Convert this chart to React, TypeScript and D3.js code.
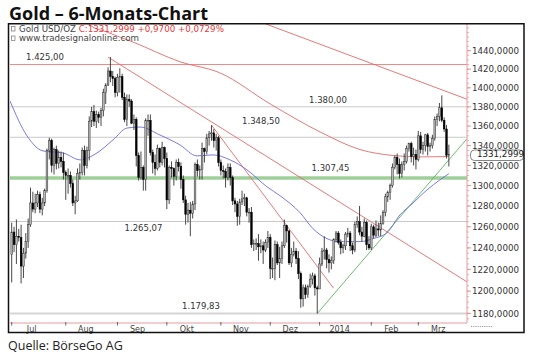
import React from "react";
import * as d3 from "d3";

// ---------- DATA (daily OHLC, spot gold USD/oz) ----------
const monthLabels = ["Jul", "Aug", "Sep", "Okt", "Nov", "Dez", "2014", "Feb", "Mrz"];

// [open, high, low, close]
const jul = [
  [1234, 1264, 1208, 1255], [1255, 1260, 1236, 1243], [1243, 1267, 1225, 1251], [1251, 1258, 1246, 1250], [1250, 1262, 1207, 1223],
  [1223, 1240, 1212, 1235], [1235, 1254, 1230, 1246], [1246, 1268, 1240, 1262], [1262, 1298, 1260, 1283], [1283, 1294, 1274, 1277],
  [1277, 1292, 1273, 1283], [1283, 1295, 1279, 1291], [1291, 1294, 1273, 1277], [1277, 1288, 1271, 1283], [1283, 1297, 1280, 1295],
  [1295, 1337, 1293, 1335], [1335, 1348, 1326, 1345], [1345, 1347, 1313, 1320], [1320, 1338, 1311, 1336], [1336, 1340, 1316, 1322],
  [1322, 1335, 1317, 1328], [1328, 1334, 1318, 1324], [1324, 1333, 1306, 1313],
];
const aug = [
  [1313, 1315, 1286, 1310], [1310, 1317, 1292, 1310], [1310, 1314, 1298, 1302], [1302, 1306, 1280, 1283], [1283, 1290, 1272, 1285],
  [1285, 1317, 1284, 1312], [1312, 1322, 1306, 1313], [1313, 1338, 1310, 1335], [1335, 1340, 1310, 1320], [1320, 1339, 1317, 1335],
  [1335, 1370, 1325, 1365], [1365, 1380, 1359, 1375], [1375, 1382, 1360, 1365], [1365, 1376, 1358, 1372], [1372, 1375, 1363, 1369],
  [1369, 1379, 1360, 1376], [1376, 1399, 1370, 1395], [1395, 1405, 1383, 1403], [1403, 1422, 1402, 1418], [1418, 1433, 1406, 1412],
  [1412, 1418, 1402, 1410], [1410, 1412, 1390, 1395],
];
const sep = [
  [1395, 1415, 1391, 1411], [1411, 1421, 1395, 1412], [1412, 1415, 1387, 1390], [1390, 1395, 1364, 1367], [1367, 1393, 1360, 1388],
  [1388, 1393, 1380, 1386], [1386, 1388, 1362, 1363], [1363, 1372, 1356, 1367], [1367, 1369, 1319, 1330], [1330, 1333, 1305, 1308],
  [1308, 1334, 1306, 1318], [1318, 1320, 1295, 1306], [1306, 1368, 1295, 1366], [1366, 1372, 1350, 1366], [1366, 1372, 1330, 1333],
  [1333, 1336, 1312, 1323], [1323, 1331, 1310, 1317], [1317, 1341, 1315, 1337], [1337, 1338, 1318, 1323], [1323, 1344, 1320, 1338],
  [1338, 1339, 1318, 1327],
];
const okt = [
  [1327, 1333, 1277, 1286], [1286, 1320, 1282, 1318], [1318, 1324, 1308, 1317], [1317, 1318, 1300, 1309], [1309, 1326, 1305, 1323],
  [1323, 1327, 1314, 1319], [1319, 1323, 1297, 1306], [1306, 1310, 1283, 1286], [1286, 1290, 1262, 1272], [1272, 1283, 1264, 1276],
  [1276, 1284, 1251, 1273], [1273, 1285, 1268, 1282], [1282, 1323, 1276, 1321], [1321, 1326, 1309, 1315], [1315, 1320, 1306, 1316],
  [1316, 1343, 1306, 1337], [1337, 1338, 1323, 1334], [1334, 1352, 1331, 1348], [1348, 1355, 1340, 1352], [1352, 1361, 1345, 1353],
  [1353, 1357, 1338, 1345], [1345, 1352, 1335, 1348], [1348, 1350, 1319, 1323],
];
const nov = [
  [1323, 1326, 1310, 1315], [1315, 1320, 1307, 1314], [1314, 1317, 1298, 1308], [1308, 1322, 1305, 1318], [1318, 1322, 1300, 1308],
  [1308, 1310, 1281, 1285], [1285, 1288, 1274, 1282], [1282, 1285, 1261, 1270], [1270, 1287, 1262, 1284], [1284, 1295, 1281, 1287],
  [1287, 1292, 1280, 1288], [1288, 1289, 1270, 1274], [1274, 1278, 1264, 1274], [1274, 1279, 1240, 1243], [1243, 1248, 1237, 1244],
  [1244, 1249, 1238, 1244], [1244, 1253, 1228, 1241], [1241, 1248, 1235, 1242], [1242, 1246, 1225, 1238], [1238, 1248, 1236, 1245],
  [1245, 1256, 1240, 1250],
];
const dez = [
  [1250, 1253, 1211, 1221], [1221, 1231, 1212, 1221], [1221, 1247, 1210, 1243], [1243, 1246, 1224, 1226], [1226, 1241, 1212, 1230],
  [1230, 1246, 1225, 1242], [1242, 1267, 1240, 1261], [1261, 1262, 1245, 1256], [1256, 1257, 1224, 1226], [1226, 1240, 1222, 1234],
  [1234, 1246, 1232, 1237], [1237, 1240, 1225, 1230], [1230, 1237, 1211, 1216], [1216, 1218, 1185, 1193], [1193, 1206, 1186, 1203],
  [1203, 1206, 1193, 1197], [1197, 1206, 1194, 1204], [1204, 1216, 1203, 1211], [1211, 1217, 1206, 1214], [1214, 1216, 1196, 1203],
  [1203, 1205, 1179.83, 1202],
];
const jan = [
  [1202, 1231, 1202, 1225], [1225, 1240, 1223, 1237], [1237, 1251, 1229, 1238], [1238, 1240, 1221, 1229], [1229, 1234, 1217, 1226],
  [1226, 1232, 1220, 1228], [1228, 1249, 1225, 1248], [1248, 1256, 1245, 1254], [1254, 1256, 1243, 1245], [1245, 1248, 1234, 1240],
  [1240, 1244, 1235, 1242], [1242, 1255, 1238, 1253], [1253, 1259, 1250, 1254], [1254, 1256, 1237, 1242], [1242, 1245, 1234, 1238],
  [1238, 1265, 1236, 1262], [1262, 1270, 1259, 1265], [1265, 1280, 1252, 1255], [1255, 1260, 1246, 1251], [1251, 1268, 1250, 1264],
  [1264, 1266, 1238, 1243], [1243, 1251, 1238, 1240],
];
const feb = [
  [1240, 1263, 1238, 1260], [1260, 1262, 1249, 1252], [1252, 1266, 1250, 1258], [1258, 1264, 1251, 1257], [1257, 1271, 1251, 1263],
  [1263, 1276, 1262, 1274], [1274, 1292, 1270, 1289], [1289, 1295, 1284, 1293], [1293, 1302, 1286, 1300], [1300, 1322, 1298, 1318],
  [1318, 1330, 1316, 1328], [1328, 1332, 1311, 1321], [1321, 1327, 1307, 1312], [1312, 1324, 1308, 1321], [1321, 1332, 1315, 1324],
  [1324, 1340, 1322, 1337], [1337, 1343, 1334, 1342], [1342, 1344, 1323, 1329], [1329, 1338, 1320, 1331], [1331, 1336, 1316, 1326],
];
const mrz = [
  [1326, 1355, 1324, 1350], [1350, 1354, 1332, 1336], [1336, 1344, 1331, 1340], [1340, 1352, 1334, 1351], [1351, 1353, 1330, 1339],
  [1339, 1343, 1334, 1340], [1340, 1351, 1337, 1347], [1347, 1370, 1345, 1367], [1367, 1373, 1360, 1370], [1370, 1384, 1365, 1379],
  [1379, 1392, 1364, 1366], [1366, 1369, 1354, 1357], [1357, 1361, 1327, 1330.3299], [1330.3299, 1341, 1319, 1331.2999],
];
const months = [jul, aug, sep, okt, nov, dez, jan, feb, mrz];

// horizontal support / resistance levels
const levels = [1425, 1380, 1348.5, 1307.45, 1265.07, 1179.83];

// right axis ticks
const axisTicks = [1180, 1200, 1220, 1240, 1260, 1280, 1300, 1320, 1340, 1360, 1380, 1400, 1420, 1440];

// long moving average (red curve) — bar index / value
const maLongIdx = [30, 33, 41, 51.6, 71.6, 88.6, 110, 131.2, 148.2, 162.2, 173.6, 186];
const maLongVal = [1478, 1469, 1460, 1449.5, 1428, 1416, 1383, 1354, 1336, 1330, 1328.6, 1329];

// short moving average (blue curve)
const maShortIdx = [-0.7, 6.5, 13.3, 21.8, 29.1, 36.3, 43.1, 49.1, 54.6, 63.1, 71.6, 78.8, 85.7, 92.9, 100.1, 108.6, 114.2,
  122.7, 128.2, 134.2, 139.7, 148.2, 153.7, 159.7, 165.2, 170.8, 176.7, 182.3, 186];
const maShortVal = [1386, 1350, 1334.6, 1332.6, 1325.6, 1332.6, 1345.8, 1358, 1359, 1350.8, 1340.7, 1329.6, 1330.6, 1325.6,
  1315.6, 1298.8, 1290, 1273.5, 1258.2, 1248.7, 1245.9, 1245.9, 1248.7, 1254.4, 1271.4, 1283, 1295.8, 1305.8, 1311.8];

// trend lines: [startIdx, startVal, endIdx, endVal]
const redTrendA = [108.2, 1469.4, 193.7, 1388];
const redTrendB = [41, 1433, 193.7, 1208.5];
const redTrendC = [85, 1361, 136.9, 1202.8];
const greenTrend = [130, 1179.83, 193.7, 1347];

// ---------- CHART ----------
const W = 540;
const H = 356;
const P = { left: 10, right: 467, top: 24, bottom: 323 };
const FONT = "'DejaVu Sans', Verdana, sans-serif";
const RED = "#e26a6a";

const de = d3.formatLocale({ decimal: ",", thousands: ".", grouping: [3], currency: ["", ""] });
const fmtLevel = de.format(",.2f");
const fmtAxis = de.format(".4f");

export default function App() {
  const bars = months.flat();
  const starts: number[] = [];
  let acc = 0;
  months.forEach((m) => { starts.push(acc); acc += m.length; });

  const x = d3.scaleLinear().domain([0, 173]).range([11.7, 418.3]);
  const y = d3.scaleLog().domain([1180, 1440]).range([313.3, 50.7]);

  const maLine = d3.line<[number, number]>().x((d) => x(d[0])).y((d) => y(d[1])).curve(d3.curveMonotoneX);
  const maLong = maLine(maLongIdx.map((v, i) => [v, maLongVal[i]]));
  const maShort = maLine(maShortIdx.map((v, i) => [v, maShortVal[i]]));

  const seg = (t: number[]) => ({ x1: x(t[0]), y1: y(t[1]), x2: x(t[2]), y2: y(t[3]) });

  const last = bars[bars.length - 1][3];
  const prev = bars[bars.length - 2][3];
  const chg = last - prev;
  const pct = (chg / prev) * 100;

  const levelStyle = [
    { color: "#f08a8a", w: 1.2 },
    { color: "#c9c9c9", w: 1 },
    { color: "#c9c9c9", w: 1 },
    { color: "#9fcf98", w: 3.5 },
    { color: "#c9c9c9", w: 1 },
    { color: "#d6d6d6", w: 2 },
  ];
  const levelLabelPos = [
    { cx: 45, dy: -7.3 },
    { cx: 328, dy: -6.9 },
    { cx: 261, dy: -16 },
    { cx: 330.5, dy: -10.3 },
    { cx: 143.5, dy: 6.5 },
    { cx: 201, dy: -7.9 },
  ];

  const minorTicks = d3.range(1175, 1470, 5).filter((v) => y(v) > P.top && y(v) < P.bottom);
  const bw = 1.7;

  return (
    <svg width={W} height={H} style={{ position: "absolute", left: 0, top: 0, background: "#fff" }} fontFamily={FONT}>
      <defs>
        <clipPath id="plot">
          <rect x={P.left} y={P.top} width={P.right - P.left} height={P.bottom - P.top} />
        </clipPath>
      </defs>

      <text x={9} y={19.5} fontFamily="'Open Sans', sans-serif" fontWeight={700} fontSize={18} fill="#111">
        Gold – 6-Monats-Chart
      </text>

      <g clipPath="url(#plot)">
        {levels.map((v, i) => (
          <line key={"lv" + i} x1={P.left} x2={P.right} y1={y(v)} y2={y(v)} stroke={levelStyle[i].color} strokeWidth={levelStyle[i].w} />
        ))}
        {[redTrendA, redTrendB, redTrendC].map((t, i) => (
          <line key={"rt" + i} {...seg(t)} stroke={RED} strokeWidth={0.9} />
        ))}
        <line {...seg(greenTrend)} stroke="#5fb35f" strokeWidth={0.9} />
        <path d={maLong || ""} fill="none" stroke={RED} strokeWidth={0.9} />
        <path d={maShort || ""} fill="none" stroke="#6a6ae2" strokeWidth={0.9} />

        {bars.map((b, i) => {
          const [o, h, l, c] = b;
          const cx = x(i);
          const up = c >= o;
          const top = y(Math.max(o, c));
          const bot = y(Math.min(o, c));
          return (
            <g key={"b" + i}>
              <line x1={cx} x2={cx} y1={y(h)} y2={y(l)} stroke="#333" strokeWidth={0.9} />
              <rect x={cx - bw / 2} y={top} width={bw} height={Math.max(0.8, bot - top)}
                fill={up ? "#b8b8b8" : "#000"} stroke={up ? "#333" : "#000"} strokeWidth={0.5} />
            </g>
          );
        })}
      </g>

      {levels.map((v, i) => (
        <text key={"ll" + i} x={levelLabelPos[i].cx} y={y(v) + levelLabelPos[i].dy + 3} textAnchor="middle" fontSize={8.5} fill="#333">
          {fmtLevel(v)}
        </text>
      ))}

      {/* legend */}
      <rect x={11.5} y={26.5} width={3.5} height={4.5} fill="none" stroke="#777" strokeWidth={0.7} />
      <text x={19} y={31.5} fontSize={8.7} fill="#444">
        Gold USD/OZ <tspan fill="#e23a3a">{`C:${fmtAxis(last)} +${fmtAxis(chg)} +${fmtAxis(pct)}%`}</tspan>
      </text>
      <rect x={11.5} y={36} width={3.5} height={4.5} fill="none" stroke="#777" strokeWidth={0.7} />
      <text x={19} y={41} fontSize={8.7} fill="#444">www.tradesignalonline.com</text>

      {/* right axis */}
      <line x1={P.right} x2={P.right} y1={P.top} y2={P.bottom} stroke="#e89aa0" strokeWidth={1} />
      {minorTicks.map((v) => (
        <line key={"mt" + v} x1={P.right} x2={P.right + 2} y1={y(v)} y2={y(v)} stroke="#e89aa0" strokeWidth={0.8} />
      ))}
      {axisTicks.map((v) => (
        <g key={"at" + v}>
          <line x1={P.right} x2={P.right + 4} y1={y(v)} y2={y(v)} stroke="#e08a90" strokeWidth={0.9} />
          <text x={472} y={y(v) + 3.2} fontSize={8.7} fill="#333">{fmtAxis(v)}</text>
        </g>
      ))}
      <rect x={470.5} y={150} width={53} height={10.5} rx={4} fill="#fff" stroke="#666" strokeWidth={0.8} />
      <text x={477} y={y(last) + 3.2} fontSize={8.7} fill="#222">{fmtAxis(last)}</text>
      <line x1={471} x2={492} y1={326.5} y2={326.5} stroke="#9a9ab0" strokeWidth={1} strokeDasharray="1.2,1" />

      {/* bottom axis */}
      <line x1={P.left} x2={P.right} y1={P.bottom} y2={P.bottom} stroke="#e89aa0" strokeWidth={1} />
      {starts.map((s, i) => (
        <g key={"m" + i}>
          <line x1={x(s)} x2={x(s)} y1={P.bottom - 1} y2={P.bottom + 2.5} stroke="#555" strokeWidth={0.9} />
          <text x={x(s) + 20} y={331.5} textAnchor="middle" fontSize={8} fill="#444">{monthLabels[i]}</text>
        </g>
      ))}

      {/* frame */}
      <rect x={8.5} y={23.75} width={515.5} height={308.75} fill="none" stroke="#111" strokeWidth={1.5} />

      <text x={8} y={350} fontFamily="'Open Sans', sans-serif" fontSize={12.5} fill="#222">Quelle: BörseGo AG</text>
    </svg>
  );
}
